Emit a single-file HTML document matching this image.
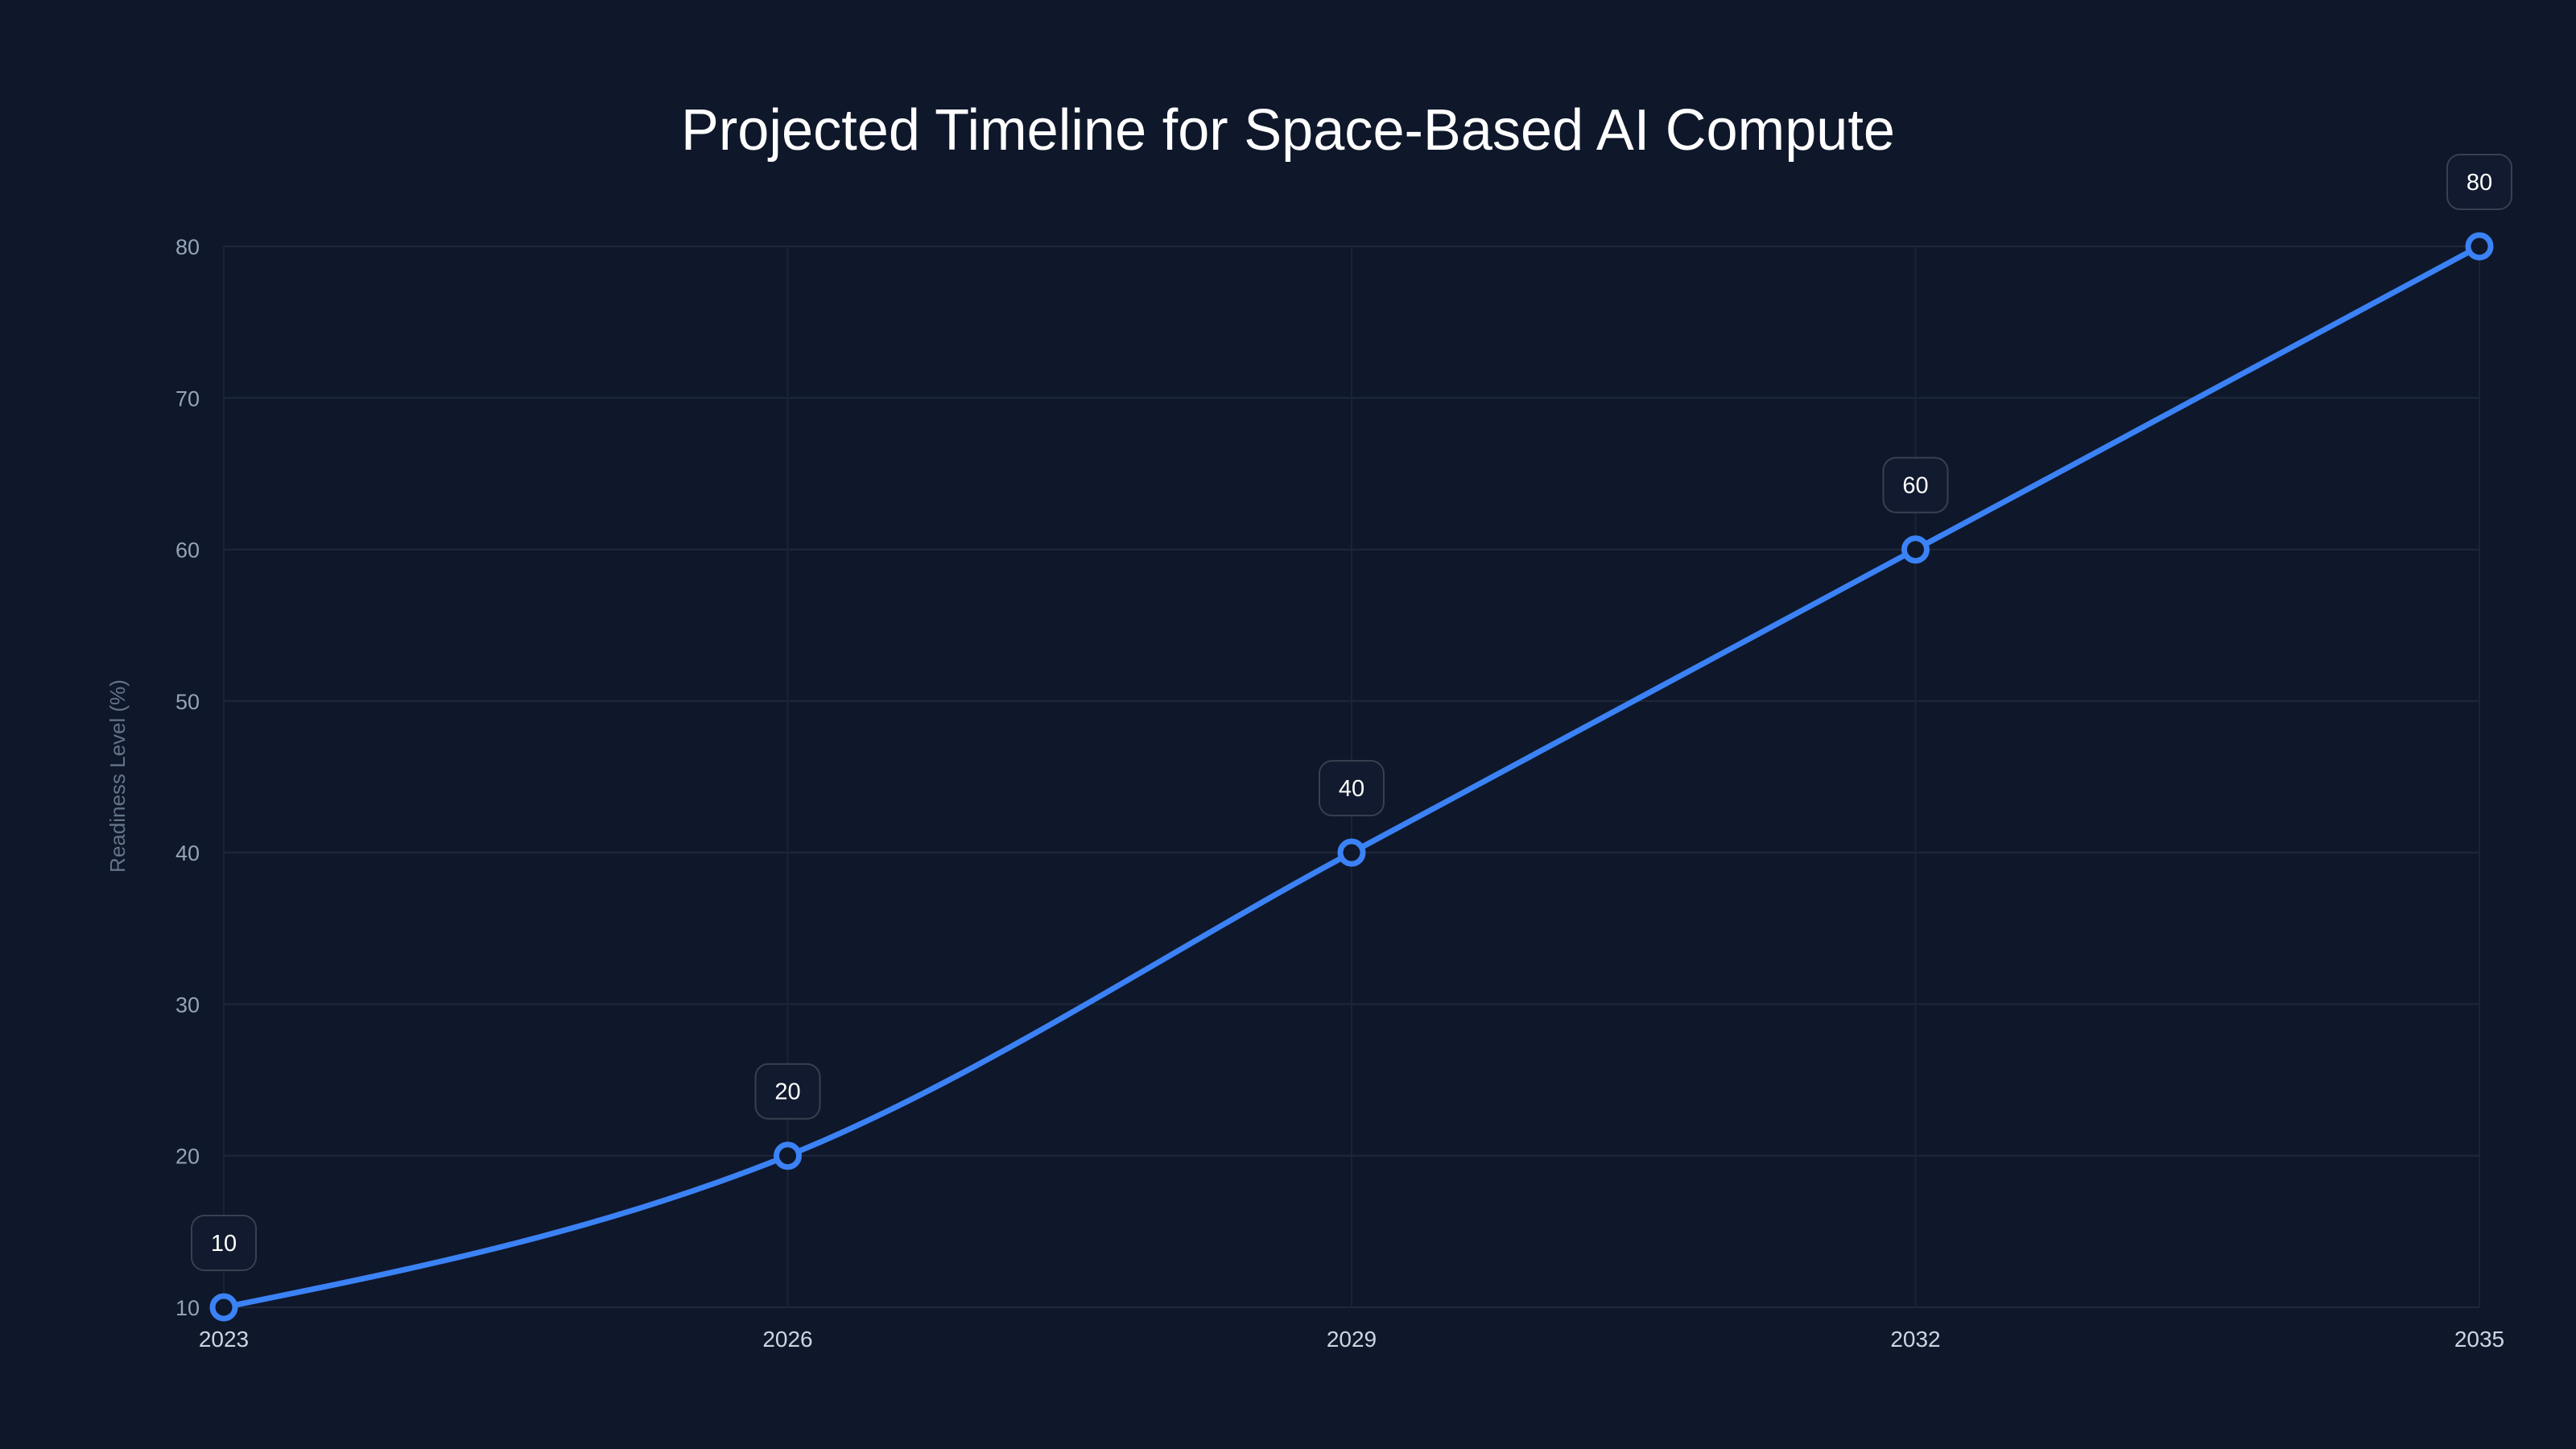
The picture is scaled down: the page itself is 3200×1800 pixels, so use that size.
<!DOCTYPE html>
<html><head><meta charset="utf-8"><style>
html,body{margin:0;padding:0;background:#0f172a;}
svg{display:block;font-family:"Liberation Sans",sans-serif;}
</style></head><body>
<svg id="chart" width="3200" height="1800" viewBox="0 0 3200 1800">
<rect width="3200" height="1800" fill="#0f172a"/>
<text x="1600" y="186" text-anchor="middle" fill="#ffffff" font-size="72" textLength="1508" lengthAdjust="spacingAndGlyphs">Projected Timeline for Space-Based AI Compute</text>
<g id="grid"></g>
<g id="axes"></g>
<text transform="translate(155,964) rotate(-90)" text-anchor="middle" fill="#64748b" font-size="26">Readiness Level (%)</text>
<g id="series"></g>
</svg>
<script>
const years = [2023, 2026, 2029, 2032, 2035];
const readiness = [10, 20, 40, 60, 80];
const yTicks = [10, 20, 30, 40, 50, 60, 70, 80];

const X0 = 278, X1 = 3080, Y0 = 1624, Y1 = 306;
const NS = "http://www.w3.org/2000/svg";
function xs(v){ return X0 + (v - years[0]) / (years[years.length-1] - years[0]) * (X1 - X0); }
function ys(v){ return Y0 - (v - 10) / (80 - 10) * (Y0 - Y1); }
function mk(tag, attrs, parent){ const e = document.createElementNS(NS, tag); for (const k in attrs) e.setAttribute(k, attrs[k]); parent.appendChild(e); return e; }

const grid = document.getElementById('grid'), axes = document.getElementById('axes'), series = document.getElementById('series');
yTicks.forEach(t => {
  const l = mk('line', {x1:X0, x2:X1, y1:ys(t), y2:ys(t), stroke:'#1e293b', 'stroke-width':2}, grid);
  
  
  const tx = mk('text', {x:248, y:ys(t)+10, 'text-anchor':'end', fill:'#94a3b8', 'font-size':27}, axes);
  tx.textContent = t;
  
  
});
years.forEach(y => {
  const l = mk('line', {x1:xs(y), x2:xs(y), y1:Y1, y2:Y0, stroke:'#1a2436', 'stroke-width':2}, grid);
  
  
  const tx = mk('text', {x:xs(y), y:1673, 'text-anchor':'middle', fill:'#cbd5e1', 'font-size':28}, axes);
  tx.textContent = y;
  
  
});

// monotone X curve
const px = years.map(xs), py = readiness.map(ys), n = px.length;
const d = [], m = [];
for (let i=0;i<n-1;i++) d.push((py[i+1]-py[i])/(px[i+1]-px[i]));
for (let i=0;i<n;i++){
  if (i===0 || i===n-1) m.push(0);
  else {
    const h0 = px[i]-px[i-1], h1 = px[i+1]-px[i], s0 = d[i-1], s1 = d[i];
    const p = (s0*h1 + s1*h0)/(h0+h1);
    m.push((Math.sign(s0)+Math.sign(s1)) * Math.min(Math.abs(s0), Math.abs(s1), 0.5*Math.abs(p)) || 0);
  }
}
m[0] = (3*d[0] - m[1])/2; m[n-1] = (3*d[n-2] - m[n-2])/2;
let path = `M${px[0]},${py[0]}`;
for (let i=0;i<n-1;i++){
  const h = (px[i+1]-px[i])/3;
  path += ` C${px[i]+h},${py[i]+h*m[i]} ${px[i+1]-h},${py[i+1]-h*m[i+1]} ${px[i+1]},${py[i+1]}`;
}
const line = mk('path', {d:path, fill:'none', stroke:'#3b82f6', 'stroke-width':7, 'stroke-linecap':'round'}, series);



readiness.forEach((v,i) => {
  const cx = xs(years[i]), cy = ys(v);
  const c = mk('circle', {cx, cy, r:14, fill:'#0f172a', stroke:'#3b82f6', 'stroke-width':7}, series);
  
  
  const w = String(v).length > 1 ? 80 : 60;
  const b = mk('rect', {x:cx-w/2, y:cy-114, width:w, height:68, rx:16, fill:'#111a2e', stroke:'#374151', 'stroke-width':2}, series);
  
  
  const t = mk('text', {x:cx, y:cy-70, 'text-anchor':'middle', fill:'#ffffff', 'font-size':29}, series);
  t.textContent = v;
  
  
});
</script>
</body></html>
